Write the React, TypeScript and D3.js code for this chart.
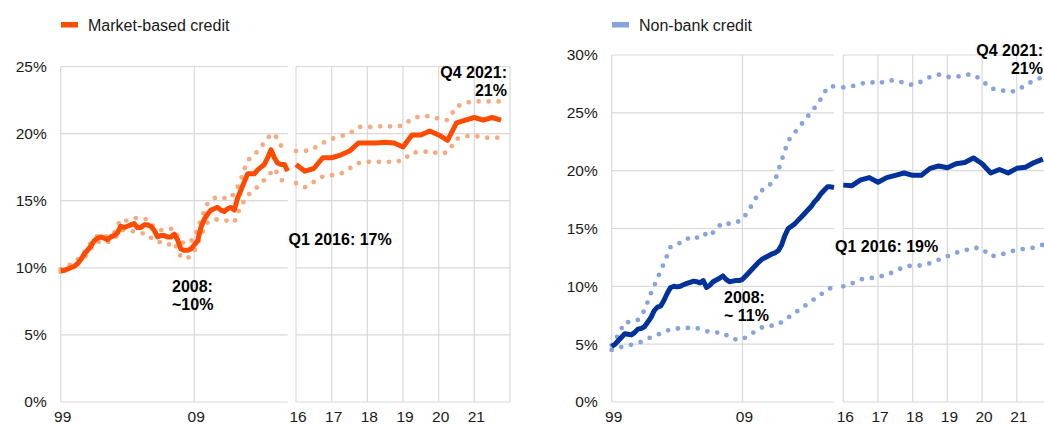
import React, { useEffect, useRef } from 'react';
import * as d3 from 'd3';

// Market-based credit, % (quarterly 1999 Q1 .. 2016 Q1)
const mbMainEarly = [9.8, 9.8, 9.9, 10.0, 10.1, 10.3, 10.6, 11.0, 11.3, 11.6,
  12.0, 12.2, 12.3, 12.2, 12.1, 12.3, 12.4, 12.6, 13.1, 13.0,
  13.1, 13.2, 13.3, 13.0, 13.0, 13.2, 13.2, 13.1, 12.8, 12.3,
  12.4, 12.4, 12.3, 12.3, 12.5, 12.1, 11.4, 11.3, 11.3, 11.4,
  11.7, 12.0, 13.0, 13.6, 14.0, 14.3, 14.4, 14.5, 14.3, 14.2,
  14.4, 14.5, 14.3, 15.2, 15.8, 16.4, 17.0, 17.0, 17.0, 17.3,
  17.5, 17.7, 18.2, 18.8, 18.2, 17.8, 17.7, 17.7, 17.2];
// band, half-yearly 1999 .. 2016
const mbHighEarly = [9.9, 10.1, 10.4, 10.8, 11.5, 12.2, 12.5, 12.3, 12.6, 13.6,
  13.5, 13.7, 13.7, 13.6, 13.0, 12.8, 12.9, 12.9, 11.9, 11.8,
  12.2, 13.6, 14.8, 15.2, 15.3, 15.1, 15.5, 16.6, 18.0, 18.4,
  19.0, 19.7, 20.0, 19.1, 18.6];
const mbLowEarly = [9.7, 9.9, 10.1, 10.5, 11.0, 11.8, 12.0, 11.9, 12.1, 12.8,
  12.8, 12.7, 12.6, 12.5, 12.0, 11.9, 11.7, 11.9, 10.8, 10.7,
  11.2, 12.4, 13.4, 13.6, 13.6, 13.5, 13.4, 14.6, 15.4, 15.8,
  16.3, 16.8, 17.4, 16.6, 16.0];
// quarterly 2016 Q1 .. 2021 Q4
const mbMainLate = [17.7, 17.2, 17.4, 18.2, 18.2, 18.4, 18.7, 19.3, 19.3, 19.3,
  19.35, 19.3, 19.0, 19.9, 19.9, 20.2, 19.9, 19.5, 20.8, 21.0,
  21.2, 21.0, 21.2, 21.0];
const mbHighLate = [18.7, 18.7, 18.9, 19.3, 19.6, 19.8, 20.0, 20.5, 20.5, 20.5,
  20.6, 20.5, 20.6, 21.1, 21.3, 21.3, 21.1, 21.0, 22.0, 22.3,
  22.4, 22.4, 22.4, 22.4];
const mbLowLate = [16.3, 16.0, 16.4, 16.8, 16.9, 17.0, 17.4, 17.8, 17.9, 17.9,
  17.9, 17.9, 18.0, 18.6, 18.6, 18.7, 18.5, 18.6, 19.6, 19.8,
  19.85, 19.7, 19.7, 19.7];

// Non-bank credit, %
const nbMainEarly = [4.8, 5.0, 5.3, 5.6, 5.9, 5.85, 5.8, 6.0, 6.3, 6.35,
  6.5, 6.9, 7.3, 7.9, 8.2, 8.3, 8.8, 9.4, 9.9, 10.0,
  9.95, 10.0, 10.15, 10.25, 10.35, 10.45, 10.4, 10.3, 10.5, 9.9,
  10.1, 10.4, 10.55, 10.7, 10.9, 10.6, 10.4, 10.45, 10.5, 10.5,
  10.6, 10.9, 11.2, 11.5, 11.8, 12.1, 12.35, 12.5, 12.65, 12.8,
  12.9, 13.1, 13.6, 14.4, 15.0, 15.2, 15.4, 15.7, 16.0, 16.3,
  16.6, 16.9, 17.3, 17.6, 18.0, 18.3, 18.6, 18.6, 18.55];
const nbHighEarly = [4.9, 5.8, 6.9, 6.9, 7.1, 7.9, 9.4, 10.7, 12.0, 13.4,
  13.7, 13.8, 14.3, 14.2, 14.6, 14.3, 15.0, 15.5, 15.4, 15.5,
  15.8, 16.6, 17.6, 18.3, 18.7, 19.2, 20.9, 22.6, 23.3, 24.0,
  24.7, 25.4, 26.2, 27.2, 27.3];
const nbLowEarly = [4.5, 4.7, 4.8, 4.95, 5.1, 5.3, 5.6, 5.8, 6.1, 6.25,
  6.35, 6.4, 6.4, 6.4, 6.2, 6.05, 6.0, 6.0, 5.6, 5.4,
  5.4, 5.8, 6.1, 6.45, 6.6, 6.6, 6.9, 7.3, 7.7, 8.1,
  8.5, 8.9, 9.3, 9.7, 10.0];
const nbMainLate = [18.75, 18.7, 19.2, 19.4, 19.0, 19.4, 19.6, 19.8, 19.6, 19.6,
  20.2, 20.4, 20.25, 20.6, 20.7, 21.1, 20.6, 19.8, 20.1, 19.8,
  20.2, 20.3, 20.7, 21.0];
const nbHighLate = [27.2, 27.3, 27.5, 27.7, 27.5, 27.8, 27.8, 27.6, 27.4, 27.7,
  28.1, 28.3, 28.1, 28.1, 28.3, 28.3, 27.8, 27.1, 27.0, 26.8,
  26.9, 27.4, 27.8, 28.1];
const nbLowLate = [10.0, 10.25, 10.6, 10.7, 10.8, 11.0, 11.3, 11.7, 11.8, 11.8,
  12.0, 12.3, 12.6, 12.9, 13.1, 13.35, 13.25, 12.6, 12.7, 12.95,
  13.15, 13.25, 13.35, 13.6];

const earlyYears = [1999, 2009];
const lateYears = [2016, 2017, 2018, 2019, 2020, 2021];

const FONT = 'Arial, "Liberation Sans", sans-serif';

export default function App() {
  const svgRef = useRef<SVGSVGElement>(null);

  useEffect(() => {
    const svg = d3.select(svgRef.current);
    svg.selectAll('*').remove();

    const charts = [
      {
        legend: 'Market-based credit', legendX: 61, legendFill: '#ff4b00',
        main: '#ff4b00', light: '#f6aa82',
        yMax: 25, top: 66.5, bottom: 402,
        aLeft: 60.7, aRight: 287.7, bLeft: 296, bRight: 510,
        mainEarly: mbMainEarly, highEarly: mbHighEarly, lowEarly: mbLowEarly,
        mainLate: mbMainLate, highLate: mbHighLate, lowLate: mbLowLate,
        notes: [
          { x: 507, y: 78, anchor: 'end', lines: ['Q4 2021:', '21%'] },
          { x: 288.5, y: 245, anchor: 'start', lines: ['Q1 2016: 17%'] },
          { x: 172, y: 291.5, anchor: 'start', lines: ['2008:', '~10%'] },
        ],
      },
      {
        legend: 'Non-bank credit', legendX: 612, legendFill: '#86a3dd',
        main: '#003299', light: '#86a3dd',
        yMax: 30, top: 55, bottom: 402,
        aLeft: 611.7, aRight: 834, bLeft: 843.3, bRight: 1051.5,
        mainEarly: nbMainEarly, highEarly: nbHighEarly, lowEarly: nbLowEarly,
        mainLate: nbMainLate, highLate: nbHighLate, lowLate: nbLowLate,
        notes: [
          { x: 1043, y: 56, anchor: 'end', lines: ['Q4 2021:', '21%'] },
          { x: 835, y: 251.5, anchor: 'start', lines: ['Q1 2016: 19%'] },
          { x: 724, y: 303, anchor: 'start', lines: ['2008:', '~ 11%'] },
        ],
      },
    ];

    charts.forEach(c => {
      const g = svg.append('g');
      const y = d3.scaleLinear().domain([0, c.yMax]).range([c.bottom, c.top]);
      const xA = d3.scaleLinear().domain([1999, 2016]).range([c.aLeft, c.aRight]);
      const xB = d3.scaleLinear().domain([2016, 2022]).range([c.bLeft, c.bRight]);
      const yTicks = d3.range(0, c.yMax + 1, 5);

      // horizontal gridlines, one set per panel
      [xA, xB].forEach(x => {
        g.append('g').selectAll('line').data(yTicks).join('line')
          .attr('x1', x.range()[0]).attr('x2', x.range()[1])
          .attr('y1', d => y(d)).attr('y2', d => y(d))
          .attr('stroke', '#d9d9d9').attr('stroke-width', 1.2);
      });

      // vertical gridlines
      const vLines = [
        ...earlyYears.map(d => xA(d)),
        ...[...lateYears, 2022].map(d => xB(d)),
      ];
      g.append('g').selectAll('line').data(vLines).join('line')
        .attr('x1', d => d).attr('x2', d => d)
        .attr('y1', y(0)).attr('y2', y(c.yMax))
        .attr('stroke', '#d9d9d9').attr('stroke-width', 1.2);

      // y axis labels
      const yAxis = g.append('g')
        .attr('transform', `translate(${c.aLeft},0)`)
        .call(d3.axisLeft(y).tickValues(yTicks).tickSize(0).tickPadding(14)
          .tickFormat(d => `${d}%`));
      yAxis.select('.domain').remove();
      yAxis.attr('font-size', 15.5).attr('font-family', FONT);
      yAxis.selectAll('text').attr('fill', '#1a1a1a');

      // x axis labels, both panels
      [[xA, earlyYears], [xB, lateYears]].forEach(([x, years]: any) => {
        const ax = g.append('g')
          .attr('transform', `translate(1.5,${y(0)})`)
          .call(d3.axisBottom(x).tickValues(years).tickSize(0).tickPadding(9)
            .tickFormat((d: any) => String(d).slice(2)));
        ax.select('.domain').remove();
        ax.attr('font-size', 15.5).attr('font-family', FONT);
        ax.selectAll('text').attr('fill', '#1a1a1a');
      });

      const lineA = (step: number) => d3.line<number>()
        .x((d, i) => xA(1999 + i * step)).y(d => y(d));
      const lineB = d3.line<number>()
        .x((d, i) => xB(2016 + i / 4)).y(d => y(d));

      const dotted = [
        lineA(0.5)(c.highEarly), lineA(0.5)(c.lowEarly),
        lineB(c.highLate), lineB(c.lowLate),
      ];
      g.append('g').selectAll('path').data(dotted).join('path')
        .attr('d', d => d as string)
        .attr('fill', 'none')
        .attr('stroke', c.light)
        .attr('stroke-width', 4.8)
        .attr('stroke-linecap', 'round')
        .attr('stroke-dasharray', '0 10');

      const solid = [lineA(0.25)(c.mainEarly), lineB(c.mainLate)];
      g.append('g').selectAll('path').data(solid).join('path')
        .attr('d', d => d as string)
        .attr('fill', 'none')
        .attr('stroke', c.main)
        .attr('stroke-width', 5)
        .attr('stroke-linejoin', 'round');

      // legend
      g.append('rect')
        .attr('x', c.legendX).attr('y', 22)
        .attr('width', 17).attr('height', 5.5)
        .attr('fill', c.legendFill);
      g.append('text')
        .attr('x', c.legendX + 27).attr('y', 31)
        .attr('font-size', 16).attr('font-family', FONT)
        .attr('fill', '#1a1a1a')
        .text(c.legend);

      // annotations
      c.notes.forEach(n => {
        const t = g.append('text')
          .attr('font-size', 16).attr('font-weight', 'bold')
          .attr('font-family', FONT).attr('text-anchor', n.anchor)
          .attr('fill', '#000');
        n.lines.forEach((l, i) => {
          t.append('tspan').attr('x', n.x).attr('y', n.y + i * 18).text(l);
        });
      });
    });
  }, []);

  return (
    <div>
      <svg ref={svgRef} width={1044} height={426}
        style={{ position: 'absolute', left: 0, top: 0, background: '#fff' }} />
    </div>
  );
}
